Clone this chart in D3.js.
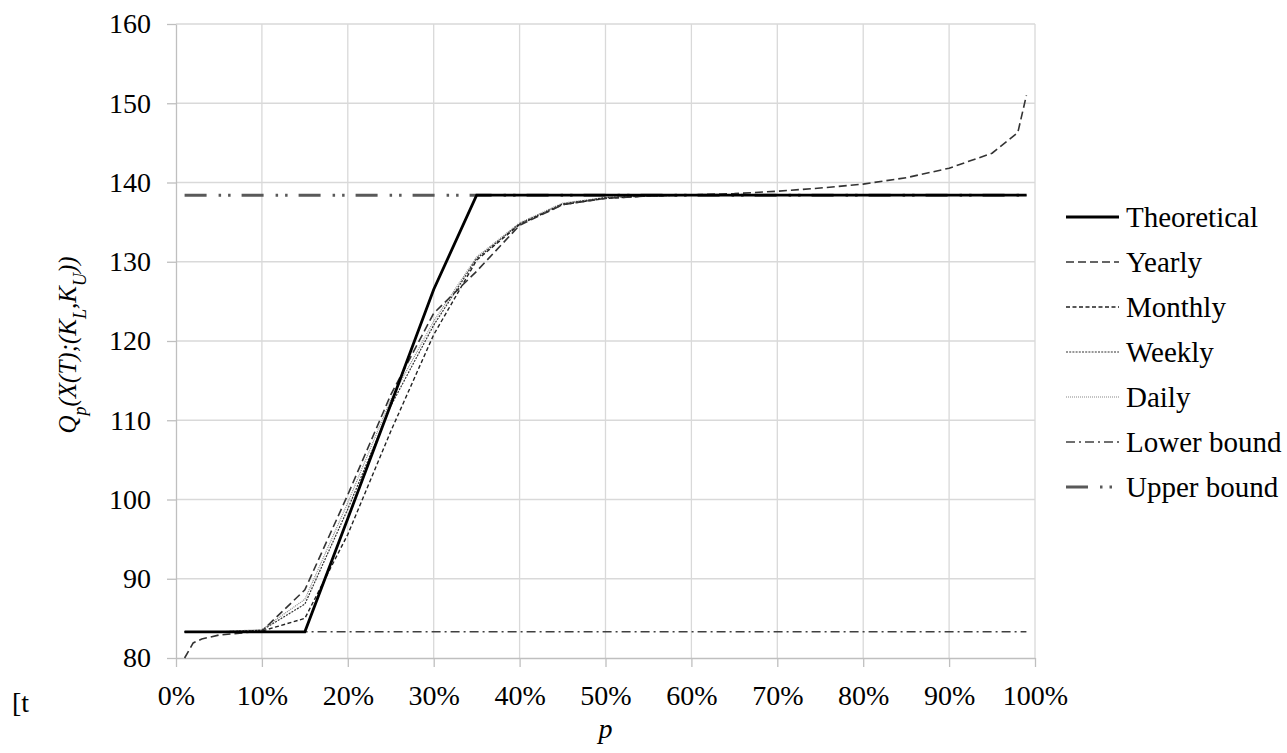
<!DOCTYPE html>
<html lang="en">
<head>
    <meta charset="UTF-8">
    <title>Quantiles</title>
    <script src="https://d3js.org/d3.v7.min.js"></script>
    <style>
        body { margin: 0; background: #fff; }
        svg text { font-family: "Times New Roman", Times, "Liberation Serif", Tinos, "Noto Serif", "DejaVu Serif", serif; fill: #000; }
        .grid line { stroke: #d9d9d9; stroke-width: 1.3; }
        .axis path, .axis line { stroke: #bfbfbf; stroke-width: 1.3; }
        .axis text { font-size: 28px; }
        path.series { fill: none; }
    </style>
</head>
<body>
<script>
    const width  = 1287;
    const height = 753;

    // percent points and values of each curve
    const pTheo  = [1, 15, 20, 25, 30, 35, 99];
    const theoretical = [83.3, 83.3, 97.6, 112.0, 126.5, 138.4, 138.4];

    const pYear  = [1, 2, 3, 5, 10, 15, 20, 25, 30, 35, 40, 45, 50, 55, 60, 65, 70, 75, 80, 85, 90, 95, 98, 99];
    const yearly = [80.0, 81.9, 82.4, 82.9, 83.4, 88.6, 100.6, 113.2, 123.5, 128.8, 134.6, 137.2, 138.0, 138.3, 138.45, 138.6, 138.9, 139.3, 139.8, 140.6, 141.8, 143.7, 146.3, 151.0];

    const pEmp    = [1, 5, 10, 15, 20, 25, 30, 35, 40, 45, 50, 55, 60, 70, 80, 90, 99];
    const monthly = [83.3, 83.3, 83.4, 85.0, 95.6, 108.6, 120.8, 130.2, 134.7, 137.2, 138.0, 138.3, 138.4, 138.4, 138.4, 138.4, 138.4];
    const weekly  = [83.3, 83.3, 83.5, 86.8, 98.8, 111.8, 122.0, 130.4, 134.8, 137.3, 138.1, 138.3, 138.4, 138.4, 138.4, 138.4, 138.4];
    const daily   = [83.3, 83.3, 83.6, 87.4, 99.6, 112.6, 122.5, 130.6, 134.9, 137.4, 138.1, 138.35, 138.4, 138.4, 138.4, 138.4, 138.4];

    const pBound = [1, 99];
    const lowerBound = [83.3, 83.3];
    const upperBound = [138.4, 138.4];

    const xTicks = [0, 10, 20, 30, 40, 50, 60, 70, 80, 90, 100];
    const yTicks = [80, 90, 100, 110, 120, 130, 140, 150, 160];

    const legendNames = ["Theoretical", "Yearly", "Monthly", "Weekly", "Daily", "Lower bound", "Upper bound"];

    const styles = {
        "Theoretical": {stroke: "#000",    width: 2.8, dash: null},
        "Yearly":      {stroke: "#333",    width: 1.6, dash: "8,4"},
        "Monthly":     {stroke: "#222",    width: 1.4, dash: "4,2.5"},
        "Weekly":      {stroke: "#333",    width: 1.2, dash: "2,1.2"},
        "Daily":       {stroke: "#888",    width: 1.2, dash: "1,1"},
        "Lower bound": {stroke: "#404040", width: 1.5, dash: "9,4,2,4"},
        "Upper bound": {stroke: "#595959", width: 3,   dash: "22,12,2.5,7,2.5,11"}
    };

    const series = [
        {name: "Upper bound", p: pBound, v: upperBound},
        {name: "Lower bound", p: pBound, v: lowerBound},
        {name: "Daily",       p: pEmp,   v: daily},
        {name: "Weekly",      p: pEmp,   v: weekly},
        {name: "Monthly",     p: pEmp,   v: monthly},
        {name: "Yearly",      p: pYear,  v: yearly},
        {name: "Theoretical", p: pTheo,  v: theoretical}
    ];

    const scaleX = d3.scaleLinear().domain([0, 100]).range([176, 1035]);
    const scaleY = d3.scaleLinear().domain([80, 160]).range([658, 24]);

    const svg = d3.select("body").append("svg").attr("width", width).attr("height", height);

    // gridlines
    const grid = svg.append("g").attr("class", "grid");
    grid.selectAll("line.v").data(xTicks.slice(1)).join("line").attr("class", "v")
        .attr("x1", d => scaleX(d)).attr("x2", d => scaleX(d))
        .attr("y1", scaleY(80)).attr("y2", scaleY(160));
    grid.selectAll("line.h").data(yTicks.slice(1)).join("line").attr("class", "h")
        .attr("x1", scaleX(0)).attr("x2", scaleX(100))
        .attr("y1", d => scaleY(d)).attr("y2", d => scaleY(d));

    const xAxis = d3.axisBottom(scaleX).tickValues(xTicks).tickFormat(d => d + "%")
                    .tickSizeInner(9).tickSizeOuter(0).tickPadding(18);
    const yAxis = d3.axisLeft(scaleY).tickValues(yTicks)
                    .tickSizeInner(9).tickSizeOuter(0).tickPadding(16);

    svg.append("g").attr("class", "axis")
        .attr("transform", "translate(" + [0, scaleY(80)] + ")")
        .call(xAxis)
        .attr("font-family", null);
    svg.append("g").attr("class", "axis")
        .attr("transform", "translate(" + [scaleX(0), 0] + ")")
        .call(yAxis)
        .attr("font-family", null);

    const line = d3.line().x(d => scaleX(d[0])).y(d => scaleY(d[1]));

    svg.selectAll("path.series").data(series).join("path")
        .attr("class", "series")
        .attr("d", s => line(s.p.map((p, i) => [p, s.v[i]])))
        .attr("stroke", s => styles[s.name].stroke)
        .attr("stroke-width", s => styles[s.name].width)
        .attr("stroke-dasharray", s => styles[s.name].dash);

    // legend
    const legend = svg.append("g");
    const row = legend.selectAll("g").data(legendNames).join("g")
        .attr("transform", (d, i) => "translate(" + [1066, 217 + i * 45] + ")");
    row.append("line")
        .attr("x1", 0).attr("x2", 53).attr("y1", 0).attr("y2", 0)
        .attr("stroke", d => styles[d].stroke)
        .attr("stroke-width", d => styles[d].width)
        .attr("stroke-dasharray", d => styles[d].dash);
    row.append("text").attr("x", 60).attr("dy", "0.33em")
        .style("font-size", "29px").text(d => d);

    // axis titles
    const yTitle = svg.append("text")
        .attr("transform", "translate(76,345) rotate(-90)")
        .attr("text-anchor", "middle")
        .style("font-size", "25px").style("font-style", "italic");
    yTitle.append("tspan").text("Q");
    yTitle.append("tspan").text("p").attr("baseline-shift", "sub").style("font-size", "18px");
    yTitle.append("tspan").text("(X(T);(K");
    yTitle.append("tspan").text("L").attr("baseline-shift", "sub").style("font-size", "18px");
    yTitle.append("tspan").text(",K");
    yTitle.append("tspan").text("U").attr("baseline-shift", "sub").style("font-size", "18px");
    yTitle.append("tspan").text("))");

    svg.append("text").attr("x", scaleX(50)).attr("y", 738)
        .attr("text-anchor", "middle")
        .style("font-size", "28px").style("font-style", "italic")
        .text("p");

    svg.append("text").attr("x", 12).attr("y", 712)
        .style("font-size", "28px").text("[t");
</script>
</body>
</html>
